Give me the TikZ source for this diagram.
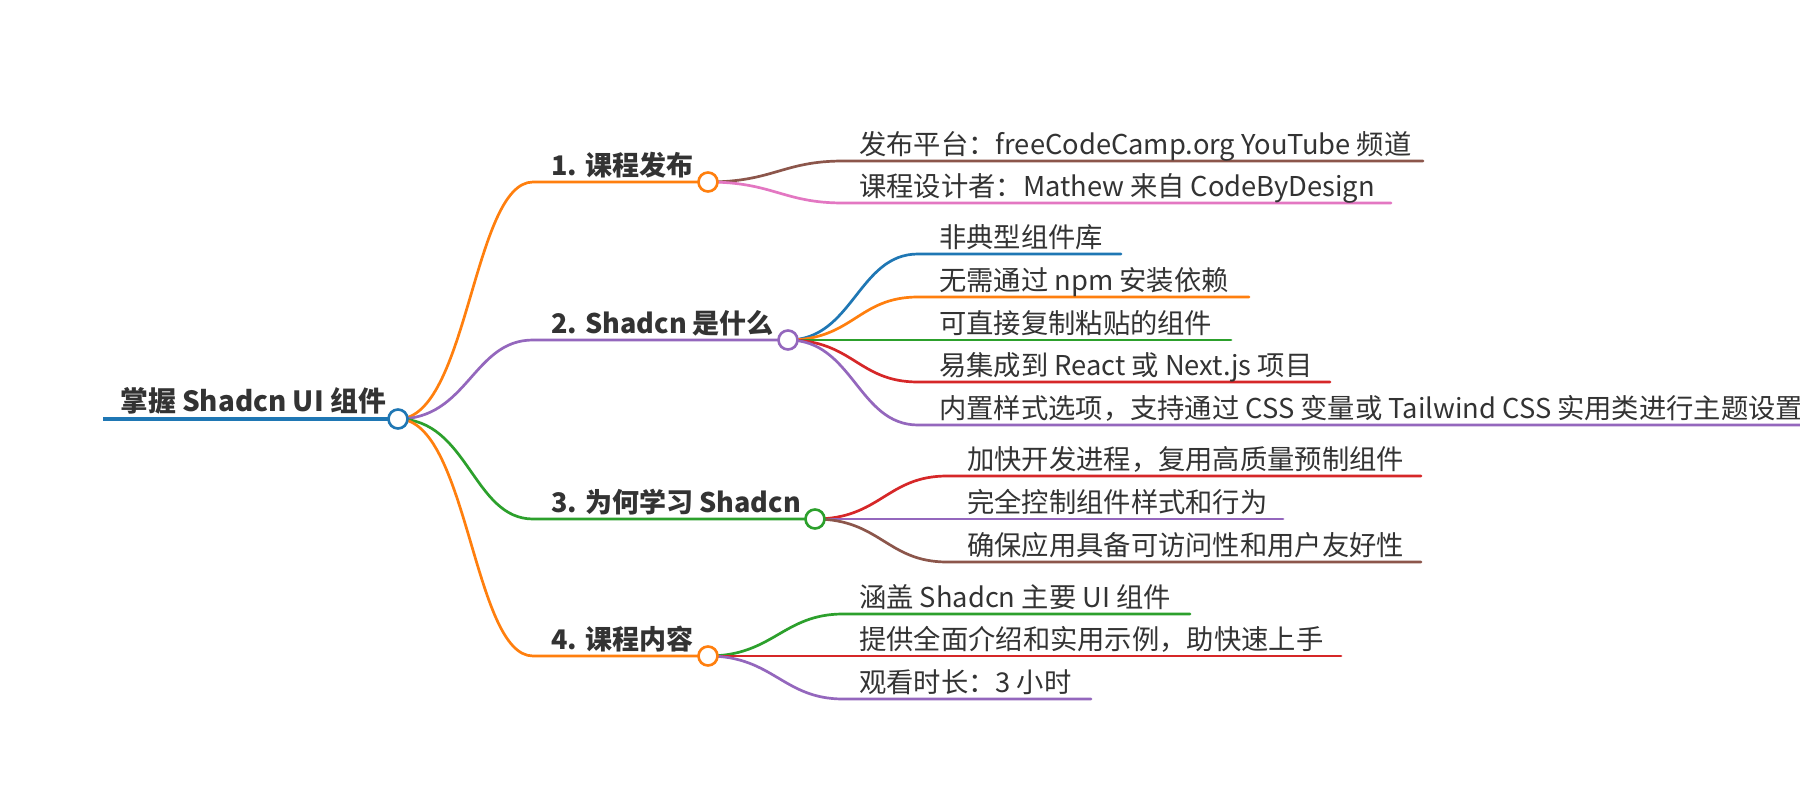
\documentclass[tikz,border=0pt]{standalone}
\usepackage{fontspec}
\setmainfont{Noto Sans CJK SC}
\usetikzlibrary{calc}
\definecolor{cblue}{HTML}{1F77B4}
\definecolor{corange}{HTML}{FF7F0E}
\definecolor{cgreen}{HTML}{2CA02C}
\definecolor{cred}{HTML}{D62728}
\definecolor{cpurple}{HTML}{9467BD}
\definecolor{cbrown}{HTML}{8C564B}
\definecolor{cpink}{HTML}{E377C2}
\definecolor{ctext}{HTML}{333333}
\begin{document}
\begin{tikzpicture}[x=1pt,y=-1pt,
  rootlabel/.style={anchor=base west,inner sep=0pt,font=\fontsize{27.8}{32}\selectfont\bfseries,text=ctext},
  branchlabel/.style={anchor=base west,inner sep=0pt,font=\fontsize{27}{32}\selectfont\bfseries,text=ctext},
  leaflabel/.style={anchor=base west,inner sep=0pt,font=\fontsize{27.3}{32}\selectfont,text=ctext},
  dot/.style={circle,draw=#1,line width=2.6pt,fill=white,minimum size=19pt,inner sep=0pt},
  edge/.style={draw=#1,line width=2.7pt,line cap=round},
  mainedge/.style={draw=#1,line width=3.3pt},
]
\useasboundingbox (0,0) rectangle (1800,800);
\fill[white] (0,0) rectangle (1800,800);

% ---------- coordinates ----------
\coordinate (r-s) at (103,419);
\coordinate (b1-s) at (533,182);
\coordinate (b2-s) at (533,340);
\coordinate (b3-s) at (533,519);
\coordinate (b4-s) at (533,656);

% leaves 1
\coordinate (l1a-s) at (843,161); \coordinate (l1a-e) at (1423,161);
\coordinate (l1b-s) at (843,203); \coordinate (l1b-e) at (1391,203);
% leaves 2
\coordinate (l2a-s) at (918,254); \coordinate (l2a-e) at (1121,254);
\coordinate (l2b-s) at (918,297); \coordinate (l2b-e) at (1249,297);
\coordinate (l2c-s) at (918,340); \coordinate (l2c-e) at (1231,340);
\coordinate (l2d-s) at (918,382); \coordinate (l2d-e) at (1330,382);
\coordinate (l2e-s) at (918,425); \coordinate (l2e-e) at (1800,425);
% leaves 3
\coordinate (l3a-s) at (947,476); \coordinate (l3a-e) at (1421,476);
\coordinate (l3b-s) at (947,519); \coordinate (l3b-e) at (1283,519);
\coordinate (l3c-s) at (947,562); \coordinate (l3c-e) at (1421,562);
% leaves 4
\coordinate (l4a-s) at (843,614); \coordinate (l4a-e) at (1190,614);
\coordinate (l4b-s) at (843,656); \coordinate (l4b-e) at (1341,656);
\coordinate (l4c-s) at (843,699); \coordinate (l4c-e) at (1091,699);

% ---------- circle positions ----------
\path (398,419) coordinate (rc-p);
\path (708,182) coordinate (b1c-p);
\path (788,340) coordinate (b2c-p);
\path (815,519) coordinate (b3c-p);
\path (708,656) coordinate (b4c-p);

% ---------- leaf connectors ----------
\path[edge=cbrown]  (b1c-p) .. controls +(65,0) and +(-60,0) .. (l1a-s) -- (l1a-e);
\path[edge=cpink]   (b1c-p) .. controls +(65,0) and +(-60,0) .. (l1b-s) -- (l1b-e);

\path[edge=cblue]   (b2c-p) .. controls +(65,0) and +(-60,0) .. (l2a-s) -- (l2a-e);
\path[edge=corange] (b2c-p) .. controls +(65,0) and +(-60,0) .. (l2b-s) -- (l2b-e);
\path[edge=cgreen]  (b2c-p) -- (l2c-s) -- (l2c-e);
\path[edge=cred]    (b2c-p) .. controls +(65,0) and +(-60,0) .. (l2d-s) -- (l2d-e);
\path[edge=cpurple] (b2c-p) .. controls +(65,0) and +(-60,0) .. (l2e-s) -- (l2e-e);

\path[edge=cred]    (b3c-p) .. controls +(65,0) and +(-60,0) .. (l3a-s) -- (l3a-e);
\path[edge=cpurple] (b3c-p) -- (l3b-s) -- (l3b-e);
\path[edge=cbrown]  (b3c-p) .. controls +(65,0) and +(-60,0) .. (l3c-s) -- (l3c-e);

\path[edge=cgreen]  (b4c-p) .. controls +(65,0) and +(-60,0) .. (l4a-s) -- (l4a-e);
\path[edge=cred]    (b4c-p) -- (l4b-s) -- (l4b-e);
\path[edge=cpurple] (b4c-p) .. controls +(65,0) and +(-60,0) .. (l4c-s) -- (l4c-e);

% ---------- branch connectors ----------
\path[edge=corange] (rc-p) .. controls +(70,0) and +(-60,0) .. (b1-s) -- (b1c-p);
\path[edge=cpurple] (rc-p) .. controls +(70,0) and +(-60,0) .. (b2-s) -- (b2c-p);
\path[edge=cgreen]  (rc-p) .. controls +(70,0) and +(-60,0) .. (b3-s) -- (b3c-p);
\path[edge=corange] (rc-p) .. controls +(70,0) and +(-60,0) .. (b4-s) -- (b4c-p);

% root line
\path[mainedge=cblue] (r-s) -- (rc-p);

% ---------- circle nodes ----------
\node[dot=cblue]   (rc)  at (rc-p) {};
\node[dot=corange] (b1c) at (b1c-p) {};
\node[dot=cpurple] (b2c) at (b2c-p) {};
\node[dot=cgreen]  (b3c) at (b3c-p) {};
\node[dot=corange] (b4c) at (b4c-p) {};

% ---------- labels ----------
\node[rootlabel] (root) at (120,411) {掌握 Shadcn UI 组件};

\node[branchlabel] (b1) at (551,175) {1. 课程发布};
\node[branchlabel] (b2) at (551,333) {2. Shadcn 是什么};
\node[branchlabel] (b3) at (551,512) {3. 为何学习 Shadcn};
\node[branchlabel] (b4) at (551,649) {4. 课程内容};

\node[leaflabel] (l1a) at (859,154) {发布平台：freeCodeCamp.org YouTube 频道};
\node[leaflabel] (l1b) at (859,196) {课程设计者：Mathew 来自 CodeByDesign};

\node[leaflabel] (l2a) at (939,247) {非典型组件库};
\node[leaflabel] (l2b) at (939,290) {无需通过 npm 安装依赖};
\node[leaflabel] (l2c) at (939,333) {可直接复制粘贴的组件};
\node[leaflabel] (l2d) at (939,375) {易集成到 React 或 Next.js 项目};
\node[leaflabel] (l2e) at (939,418) {内置样式选项，支持通过 CSS 变量或 Tailwind CSS 实用类进行主题设置};

\node[leaflabel] (l3a) at (967,469) {加快开发进程，复用高质量预制组件};
\node[leaflabel] (l3b) at (967,512) {完全控制组件样式和行为};
\node[leaflabel] (l3c) at (967,555) {确保应用具备可访问性和用户友好性};

\node[leaflabel] (l4a) at (859,607) {涵盖 Shadcn 主要 UI 组件};
\node[leaflabel] (l4b) at (859,649) {提供全面介绍和实用示例，助快速上手};
\node[leaflabel] (l4c) at (859,692) {观看时长：3 小时};
\end{tikzpicture}
\end{document}
